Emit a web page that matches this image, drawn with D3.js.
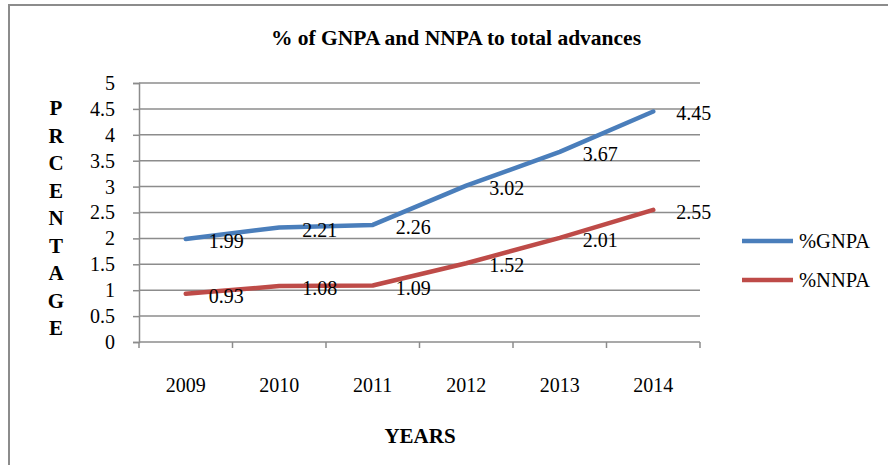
<!DOCTYPE html>
<html>
<head>
<meta charset="utf-8">
<script src="https://cdn.jsdelivr.net/npm/d3@7"></script>
<style>
  body { margin: 0; background: #fff; }
  svg { display: block; font-family: "Liberation Serif", "Times New Roman", serif; }
</style>
</head>
<body>
<svg id="chart" width="888" height="465"></svg>
<script>
const years = ['2009', '2010', '2011', '2012', '2013', '2014'];
const gnpa = [1.99, 2.21, 2.26, 3.02, 3.67, 4.45];
const nnpa = [0.93, 1.08, 1.09, 1.52, 2.01, 2.55];
const yTicks = [0, 0.5, 1, 1.5, 2, 2.5, 3, 3.5, 4, 4.5, 5];
const seriesNames = ['%GNPA', '%NNPA'];
const seriesColors = ['#4a7ebb', '#be4b48'];

const svg = d3.select('#chart');
const gridColor = '#8c8c8c';

// outer frame (only top + left are visible in the picture)
svg.append('line').attr('x1', 8).attr('x2', 888).attr('y1', 5).attr('y2', 5)
  .attr('stroke', gridColor).attr('stroke-width', 2);
svg.append('line').attr('x1', 9).attr('x2', 9).attr('y1', 5).attr('y2', 465)
  .attr('stroke', gridColor).attr('stroke-width', 2);

const x = d3.scaleBand().domain(years).range([139, 700]);
const y = d3.scaleLinear().domain([0, 5]).range([342, 83]);

// gridlines
svg.append('g').selectAll('line').data(yTicks.filter(d => d > 0)).join('line')
  .attr('x1', 139).attr('x2', 700)
  .attr('y1', d => y(d)).attr('y2', d => y(d))
  .attr('stroke', gridColor).attr('stroke-width', 1.5);

// y axis
const yAxis = svg.append('g').attr('transform', 'translate(139,0)')
  .call(d3.axisLeft(y).tickValues(yTicks).tickSize(6).tickPadding(18).tickFormat(d3.format('')));
yAxis.select('.domain').attr('stroke', gridColor).attr('stroke-width', 1.5);
yAxis.selectAll('.tick line').attr('stroke', gridColor).attr('stroke-width', 1.5);
yAxis.selectAll('.tick text').attr('font-size', 20).attr('font-family', 'Liberation Serif').attr('fill', '#000');

// x axis, ticks sit on the band edges
const xAxisG = svg.append('g').attr('transform', 'translate(0,342)');
xAxisG.append('line').attr('x1', 139).attr('x2', 700)
  .attr('stroke', gridColor).attr('stroke-width', 1.5);
const bounds = years.map(d => x(d)).concat([x(years[years.length - 1]) + x.bandwidth()]);
xAxisG.selectAll('line.tk').data(bounds).join('line').attr('class', 'tk')
  .attr('x1', d => d).attr('x2', d => d).attr('y1', 0).attr('y2', 6)
  .attr('stroke', gridColor).attr('stroke-width', 1.5);
xAxisG.selectAll('text').data(years).join('text')
  .attr('x', d => x(d) + x.bandwidth() / 2).attr('y', 50)
  .attr('text-anchor', 'middle').attr('font-size', 20).text(d => d);

// title
svg.append('text').attr('x', 456).attr('y', 45).attr('text-anchor', 'middle')
  .attr('font-size', 21.5).attr('font-weight', 'bold').text('% of GNPA and NNPA to total advances');

// y title, one letter per row
const yTitle = 'PRCENTAGE'.split('');
svg.append('g').selectAll('text').data(yTitle).join('text')
  .attr('x', 56).attr('y', (d, i) => 115 + i * 27.5)
  .attr('text-anchor', 'middle').attr('font-size', 21).attr('font-weight', 'bold').text(d => d);

// x title
svg.append('text').attr('x', 420).attr('y', 443).attr('text-anchor', 'middle')
  .attr('font-size', 21).attr('font-weight', 'bold').text('YEARS');

// lines + value labels
const line = d3.line().x((d, i) => x(years[i]) + x.bandwidth() / 2).y(d => y(d));
[gnpa, nnpa].forEach((vals, s) => {
  svg.append('path').datum(vals).attr('d', line)
    .attr('fill', 'none').attr('stroke', seriesColors[s]).attr('stroke-width', 4.5)
    .attr('stroke-linecap', 'round').attr('stroke-linejoin', 'round');
  svg.append('g').selectAll('text').data(vals).join('text')
    .attr('x', (d, i) => x(years[i]) + x.bandwidth() / 2 + 23)
    .attr('y', d => y(d) + 9)
    .attr('font-size', 20).text(d => d3.format('.2f')(d));
});

// legend
const legend = svg.append('g');
seriesNames.forEach((n, i) => {
  const ly = 241 + i * 39;
  legend.append('line').attr('x1', 742).attr('x2', 793).attr('y1', ly).attr('y2', ly)
    .attr('stroke', seriesColors[i]).attr('stroke-width', 4.5);
  legend.append('text').attr('x', 799).attr('y', ly + 7).attr('font-size', 20.5).text(n);
});
</script>
</body>
</html>
